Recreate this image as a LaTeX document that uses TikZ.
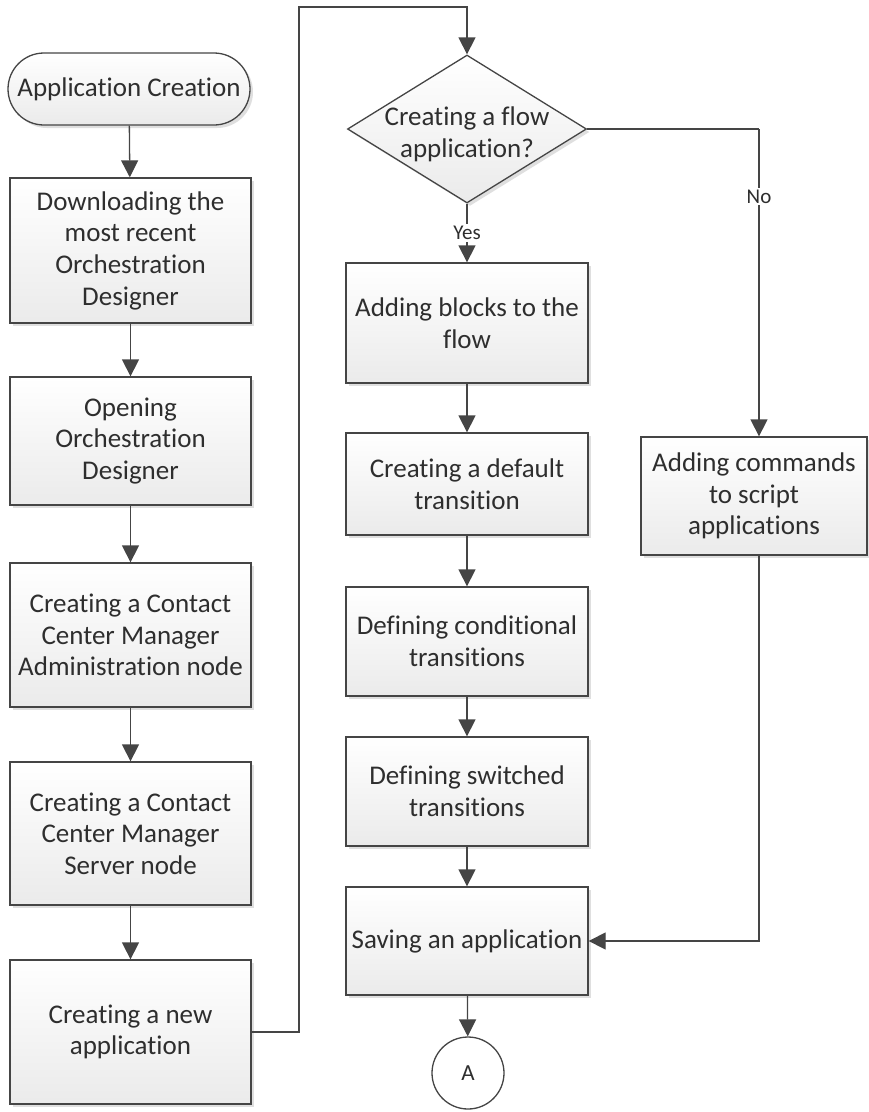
\documentclass[tikz,border=0pt]{standalone}
\usepackage{fontspec}
\setmainfont{Carlito}[Ligatures={NoCommon}]
\usetikzlibrary{shapes.geometric,shapes.misc,arrows.meta,shadows,calc}
\definecolor{ln}{HTML}{454545}
\definecolor{tx}{HTML}{2e2e2e}
\tikzset{
  base/.style={draw=ln, line width=1.3pt, top color=white, bottom color=black!8,
    drop shadow={shadow xshift=3pt, shadow yshift=-3pt, fill=black!25, opacity=0.5},
    font=\fontsize{27}{31.7}\selectfont, text=tx, align=center, inner sep=0pt},
  procbox/.style={base, rectangle, minimum width=241pt},
  termbox/.style={base, rounded rectangle, minimum width=242pt, minimum height=72pt},
  decbox/.style={base, diamond, minimum width=239pt, minimum height=148pt},
  conbox/.style={draw=ln, line width=1.3pt, fill=white, circle, minimum size=72pt, inner sep=0pt,
    font=\fontsize{23}{26}\selectfont, text=tx},
  plain/.style={font=\fontsize{27}{31.7}\selectfont, text=tx, align=center, inner sep=0pt},
  lbl/.style={font=\fontsize{21}{24}\selectfont, text=tx, fill=white, inner sep=2pt},
  conn/.style={draw=ln, line width=1.3pt},
  arr/.style={conn, -{Triangle[width=17pt,length=17pt]}}
}
\begin{document}
\begin{tikzpicture}[x=1pt,y=-1pt]
\useasboundingbox (0,0) rectangle (869,1112);
% left column
\node[termbox] (start) at (129,89) {Application Creation};
\node[procbox, minimum height=145pt] (b1) at (130.5,250.5) {Downloading the\\most recent\\Orchestration\\Designer};
\node[procbox, minimum height=128pt] (b2) at (130.5,441) {Opening\\Orchestration\\Designer};
\node[procbox, minimum height=144pt] (b3) at (130.5,635) {Creating a Contact\\Center Manager\\Administration node};
\node[procbox, minimum height=143pt] (b4) at (130.5,833.5) {Creating a Contact\\Center Manager\\Server node};
\node[procbox, minimum height=144pt] (b5) at (130.5,1032) {Creating a new\\application};
% middle column
\node[decbox] (dec) at (467,129) {};
\node[plain] (dectext) at (467,134) {Creating a flow\\application?};
\node[procbox, minimum width=242pt, minimum height=120pt] (m1) at (467,323) {Adding blocks to the\\flow};
\node[procbox, minimum width=242pt, minimum height=102pt] (m2) at (467,484) {Creating a default\\transition};
\node[procbox, minimum width=242pt, minimum height=109pt] (m3) at (467,641.5) {Defining conditional\\transitions};
\node[procbox, minimum width=242pt, minimum height=109pt] (m4) at (467,791.5) {Defining switched\\transitions};
\node[procbox, minimum width=242pt, minimum height=108pt] (save) at (467,941) {Saving an application};
\node[conbox] (conA) at (468,1073) {A};
% right column
\node[procbox, minimum width=226pt, minimum height=118pt] (rb) at (754,496) {Adding commands\\to script\\applications};
% connectors
\draw[arr] (start) -- (b1);
\draw[arr] (b1) -- (b2);
\draw[arr] (b2) -- (b3);
\draw[arr] (b3) -- (b4);
\draw[arr] (b4) -- (b5);
\coordinate (looptop) at (299,7);
\draw[arr] (b5.east) -| (looptop) -| (dec.north);
\draw[arr] (dec.south) -- node[lbl, pos=0.5] (yes) {Yes} (m1.north);
\draw[arr] (m1) -- (m2);
\draw[arr] (m2) -- (m3);
\draw[arr] (m3) -- (m4);
\draw[arr] (m4) -- (save);
\draw[arr] (save) -- (conA);
\coordinate (rbin) at ($(rb.north)+(5,0)$);
\coordinate (rbout) at ($(rb.south)+(5,0)$);
\coordinate (nocorner) at (rbin |- dec.east);
\draw[conn] (dec.east) -- (nocorner);
\draw[arr] (nocorner) -- node[lbl, pos=0.22] (no) {No} (rbin);
\draw[arr] (rbout) |- (save.east);
\end{tikzpicture}
\end{document}
